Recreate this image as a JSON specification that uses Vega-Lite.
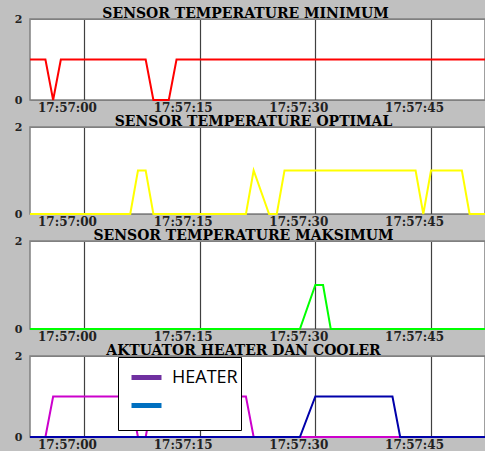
{
  "$schema": "https://vega.github.io/schema/vega-lite/v6.json",
  "background": "#c0c0c0",
  "padding": {"left": 13, "top": 6, "right": 0, "bottom": 0},
  "spacing": 0,
  "resolve": {"scale": {"color": "independent"}, "legend": {"color": "independent"}},
  "data": {
    "format": {"parse": {"time": "date:'%H:%M:%S'"}},
    "values": [
      {"series": "MIN", "time": "17:56:53", "v": 1},
      {"series": "MIN", "time": "17:56:55", "v": 1},
      {"series": "MIN", "time": "17:56:56", "v": 0},
      {"series": "MIN", "time": "17:56:57", "v": 1},
      {"series": "MIN", "time": "17:57:08", "v": 1},
      {"series": "MIN", "time": "17:57:09", "v": 0},
      {"series": "MIN", "time": "17:57:11", "v": 0},
      {"series": "MIN", "time": "17:57:12", "v": 1},
      {"series": "MIN", "time": "17:57:52", "v": 1},
      {"series": "OPT", "time": "17:56:53", "v": 0},
      {"series": "OPT", "time": "17:57:06", "v": 0},
      {"series": "OPT", "time": "17:57:07", "v": 1},
      {"series": "OPT", "time": "17:57:08", "v": 1},
      {"series": "OPT", "time": "17:57:09", "v": 0},
      {"series": "OPT", "time": "17:57:21", "v": 0},
      {"series": "OPT", "time": "17:57:22", "v": 1},
      {"series": "OPT", "time": "17:57:24", "v": 0},
      {"series": "OPT", "time": "17:57:25", "v": 0},
      {"series": "OPT", "time": "17:57:26", "v": 1},
      {"series": "OPT", "time": "17:57:43", "v": 1},
      {"series": "OPT", "time": "17:57:44", "v": 0},
      {"series": "OPT", "time": "17:57:45", "v": 1},
      {"series": "OPT", "time": "17:57:49", "v": 1},
      {"series": "OPT", "time": "17:57:50", "v": 0},
      {"series": "OPT", "time": "17:57:52", "v": 0},
      {"series": "MAKS", "time": "17:56:53", "v": 0},
      {"series": "MAKS", "time": "17:57:28", "v": 0},
      {"series": "MAKS", "time": "17:57:30", "v": 1},
      {"series": "MAKS", "time": "17:57:31", "v": 1},
      {"series": "MAKS", "time": "17:57:32", "v": 0},
      {"series": "MAKS", "time": "17:57:52", "v": 0},
      {"series": "HEATER", "time": "17:56:53", "v": 0},
      {"series": "HEATER", "time": "17:56:55", "v": 0},
      {"series": "HEATER", "time": "17:56:56", "v": 1},
      {"series": "HEATER", "time": "17:57:06", "v": 1},
      {"series": "HEATER", "time": "17:57:07", "v": 0},
      {"series": "HEATER", "time": "17:57:08", "v": 0},
      {"series": "HEATER", "time": "17:57:09", "v": 1},
      {"series": "HEATER", "time": "17:57:21", "v": 1},
      {"series": "HEATER", "time": "17:57:22", "v": 0},
      {"series": "HEATER", "time": "17:57:52", "v": 0},
      {"series": "COOLER", "time": "17:56:53", "v": 0},
      {"series": "COOLER", "time": "17:57:28", "v": 0},
      {"series": "COOLER", "time": "17:57:30", "v": 1},
      {"series": "COOLER", "time": "17:57:40", "v": 1},
      {"series": "COOLER", "time": "17:57:41", "v": 0},
      {"series": "COOLER", "time": "17:57:52", "v": 0}
    ]
  },
  "vconcat": [
    {
      "title": {"text": "SENSOR TEMPERATURE MINIMUM", "dx": -12},
      "width": 455, "height": 81,
      "transform": [{"filter": "datum.series == 'MIN'"}],
      "mark": {"type": "line", "color": "#ff0000", "strokeWidth": 2},
      "encoding": {
        "x": {"field": "time", "type": "temporal", "title": null,
          "scale": {"domain": [{"year": 1900, "month": 1, "date": 1, "hours": 17, "minutes": 56, "seconds": 53}, {"year": 1900, "month": 1, "date": 1, "hours": 17, "minutes": 57, "seconds": 52}]},
          "axis": {"format": "%H:%M:%S", "labelOffset": -17, "values": [{"year": 1900, "month": 1, "date": 1, "hours": 17, "minutes": 57, "seconds": 0}, {"year": 1900, "month": 1, "date": 1, "hours": 17, "minutes": 57, "seconds": 15}, {"year": 1900, "month": 1, "date": 1, "hours": 17, "minutes": 57, "seconds": 30}, {"year": 1900, "month": 1, "date": 1, "hours": 17, "minutes": 57, "seconds": 45}]}},
        "y": {"field": "v", "type": "quantitative", "title": null, "scale": {"domain": [0, 2]}, "axis": {"values": [0, 1, 2], "format": "d"}}
      }
    },
    {
      "title": {"text": "SENSOR TEMPERATURE OPTIMAL", "dx": -4},
      "width": 455, "height": 87,
      "transform": [{"filter": "datum.series == 'OPT'"}],
      "mark": {"type": "line", "color": "#ffff00", "strokeWidth": 2},
      "encoding": {
        "x": {"field": "time", "type": "temporal", "title": null,
          "scale": {"domain": [{"year": 1900, "month": 1, "date": 1, "hours": 17, "minutes": 56, "seconds": 53}, {"year": 1900, "month": 1, "date": 1, "hours": 17, "minutes": 57, "seconds": 52}]},
          "axis": {"format": "%H:%M:%S", "labelOffset": -17, "values": [{"year": 1900, "month": 1, "date": 1, "hours": 17, "minutes": 57, "seconds": 0}, {"year": 1900, "month": 1, "date": 1, "hours": 17, "minutes": 57, "seconds": 15}, {"year": 1900, "month": 1, "date": 1, "hours": 17, "minutes": 57, "seconds": 30}, {"year": 1900, "month": 1, "date": 1, "hours": 17, "minutes": 57, "seconds": 45}]}},
        "y": {"field": "v", "type": "quantitative", "title": null, "scale": {"domain": [0, 2]}, "axis": {"values": [0, 1, 2], "format": "d"}}
      }
    },
    {
      "title": {"text": "SENSOR TEMPERATURE MAKSIMUM", "dx": -14},
      "width": 455, "height": 88,
      "transform": [{"filter": "datum.series == 'MAKS'"}],
      "mark": {"type": "line", "color": "#00ff00", "strokeWidth": 2},
      "encoding": {
        "x": {"field": "time", "type": "temporal", "title": null,
          "scale": {"domain": [{"year": 1900, "month": 1, "date": 1, "hours": 17, "minutes": 56, "seconds": 53}, {"year": 1900, "month": 1, "date": 1, "hours": 17, "minutes": 57, "seconds": 52}]},
          "axis": {"format": "%H:%M:%S", "labelOffset": -17, "values": [{"year": 1900, "month": 1, "date": 1, "hours": 17, "minutes": 57, "seconds": 0}, {"year": 1900, "month": 1, "date": 1, "hours": 17, "minutes": 57, "seconds": 15}, {"year": 1900, "month": 1, "date": 1, "hours": 17, "minutes": 57, "seconds": 30}, {"year": 1900, "month": 1, "date": 1, "hours": 17, "minutes": 57, "seconds": 45}]}},
        "y": {"field": "v", "type": "quantitative", "title": null, "scale": {"domain": [0, 2]}, "axis": {"values": [0, 1, 2], "format": "d"}}
      }
    },
    {
      "title": {"text": "AKTUATOR HEATER DAN COOLER", "dx": -14},
      "width": 455, "height": 81,
      "resolve": {"scale": {"color": "independent"}, "legend": {"color": "independent"}},
      "encoding": {
        "x": {"field": "time", "type": "temporal", "title": null,
          "scale": {"domain": [{"year": 1900, "month": 1, "date": 1, "hours": 17, "minutes": 56, "seconds": 53}, {"year": 1900, "month": 1, "date": 1, "hours": 17, "minutes": 57, "seconds": 52}]},
          "axis": {"format": "%H:%M:%S", "labelOffset": -17, "values": [{"year": 1900, "month": 1, "date": 1, "hours": 17, "minutes": 57, "seconds": 0}, {"year": 1900, "month": 1, "date": 1, "hours": 17, "minutes": 57, "seconds": 15}, {"year": 1900, "month": 1, "date": 1, "hours": 17, "minutes": 57, "seconds": 30}, {"year": 1900, "month": 1, "date": 1, "hours": 17, "minutes": 57, "seconds": 45}]}},
        "y": {"field": "v", "type": "quantitative", "title": null, "scale": {"domain": [0, 2]}, "axis": {"values": [0, 1, 2], "format": "d"}}
      },
      "layer": [
        {
          "transform": [{"filter": "datum.series == 'HEATER'"}],
          "mark": {"type": "line", "color": "#cc00cc", "strokeWidth": 2}
        },
        {
          "transform": [{"filter": "datum.series == 'COOLER'"}],
          "mark": {"type": "line", "color": "#0000aa", "strokeWidth": 2}
        },
        {
          "transform": [{"filter": "datum.series == 'HEATER' || datum.series == 'COOLER'"}],
          "mark": {"type": "point", "opacity": 0},
          "encoding": {
            "color": {"field": "series", "type": "nominal",
              "scale": {"domain": ["HEATER", "COOLER"], "range": ["#7030a0", "#0070c0"]},
              "legend": {"orient": "none", "legendX": 88, "legendY": 1,
                "title": "\u00a0", "titleOrient": "bottom", "titleFontSize": 11, "titlePadding": 0,
                "symbolType": "stroke", "symbolStrokeWidth": 5, "symbolSize": 900, "symbolOpacity": 1, "symbolOffset": 8,
                "labelFont": "Open Sans", "labelFontSize": 18, "labelColor": "black", "labelOffset": 8, "labelLimit": 300,
                "labelExpr": "datum.label == 'HEATER' ? 'HEATER' : ''",
                "fillColor": "white", "strokeColor": "black", "padding": 3, "rowPadding": -9}}
          }
        }
      ]
    }
  ],
  "config": {
    "view": {"stroke": "#808080", "strokeWidth": 1.5, "fill": "white"},
    "title": {"font": "DejaVu Serif", "fontSize": 14, "fontWeight": "bold", "color": "black", "baseline": "alphabetic", "offset": -8},
    "axisX": {"labelFont": "DejaVu Serif", "labelFontSize": 12, "labelFontWeight": "bold", "labelColor": "#222", "labelPadding": 2, "labelOverlap": false, "labelFlush": false, "ticks": false, "domain": false, "grid": true, "gridColor": "#404040", "gridOpacity": 1, "gridWidth": 1.2},
    "axisY": {"labelFont": "DejaVu Serif", "labelFontSize": 11, "labelFontWeight": "bold", "labelColor": "#222", "labelPadding": 8, "labelOverlap": false, "labelFlush": false, "ticks": false, "domain": false, "grid": true, "gridColor": "#808080", "gridOpacity": 1, "gridWidth": 1}
  }
}
